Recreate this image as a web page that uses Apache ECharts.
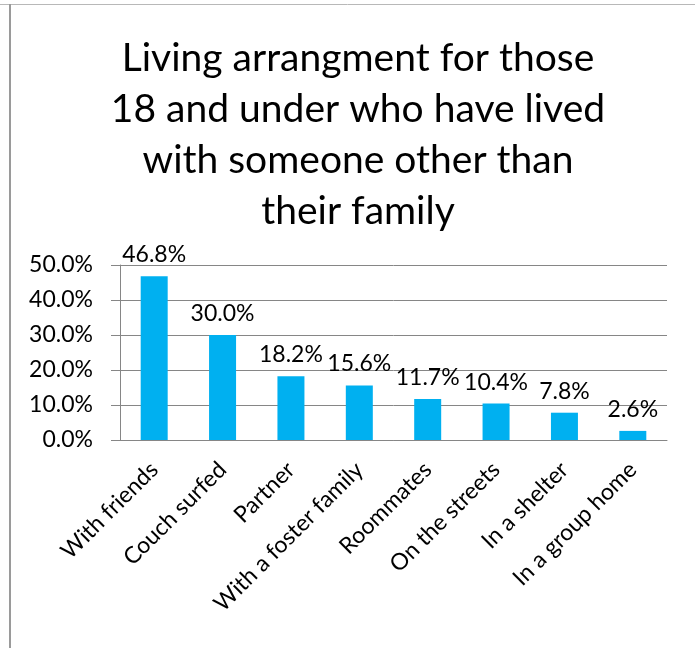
<!DOCTYPE html>
<html>
<head>
<meta charset="utf-8">
<script src="https://cdn.jsdelivr.net/npm/echarts@6/dist/echarts.min.js"></script>
<style>
  html, body { margin: 0; padding: 0; background: #fff; }
  #chart { width: 695px; height: 648px; }
</style>
</head>
<body>
<div id="chart"></div>
<script>
// data
let categories = ["With friends", "Couch surfed", "Partner", "With a foster family",
                  "Roommates", "On the streets", "In a shelter", "In a group home"];
let shares = [46.8, 30.0, 18.2, 15.6, 11.7, 10.4, 7.8, 2.6];
let yTicks = [0, 10, 20, 30, 40, 50];

let font = "Lato";
let gray = "#868686";

var myChart = echarts.init(document.getElementById('chart'));

option = {
    animation: false,
    title: {
        text: "Living arrangment for those\n18 and under who have lived\nwith someone other than\ntheir family",
        left: 353,
        textAlign: 'center',
        top: 28,
        textStyle: {
            fontFamily: font,
            fontWeight: 'normal',
            fontSize: 39,
            lineHeight: 51,
            color: '#000'
        }
    },
    graphic: [ // frame lines of the original page
        {type: 'line', shape: {x1: 0, y1: 4.5, x2: 695, y2: 4.5}, style: {stroke: '#b8b8b8', lineWidth: 1}},
        {type: 'line', shape: {x1: 10, y1: 4, x2: 10, y2: 648}, style: {stroke: '#9a9a9a', lineWidth: 2}}
    ],
    grid: {left: 120, right: 28, top: 265, bottom: 208},
    xAxis: {
        type: 'category',
        data: categories,
        axisLine: {lineStyle: {color: gray}},
        axisTick: {length: 8, lineStyle: {color: gray}},
        axisLabel: {
            rotate: 45,
            margin: 26,
            interval: 0,
            fontFamily: font,
            fontSize: 23,
            color: '#000'
        }
    },
    yAxis: {
        type: 'value',
        min: yTicks[0],
        max: yTicks[yTicks.length - 1],
        interval: 10,
        axisLine: {show: true, lineStyle: {color: gray}},
        axisTick: {show: true, length: 9, lineStyle: {color: gray}},
        splitLine: {lineStyle: {color: gray}},
        axisLabel: {
            formatter: (v) => v.toFixed(1) + '%',
            margin: 27,
            fontFamily: font,
            fontSize: 23,
            color: '#000'
        }
    },
    series: [
        {
            type: 'bar',
            data: shares,
            barWidth: 27,
            itemStyle: {color: '#00B0F0'},
            label: {
                show: true,
                position: 'top',
                distance: 10,
                formatter: (p) => p.value.toFixed(1) + '%',
                fontFamily: font,
                fontSize: 23,
                color: '#000'
            }
        }
    ]
};

myChart.setOption(option);
</script>
</body>
</html>
